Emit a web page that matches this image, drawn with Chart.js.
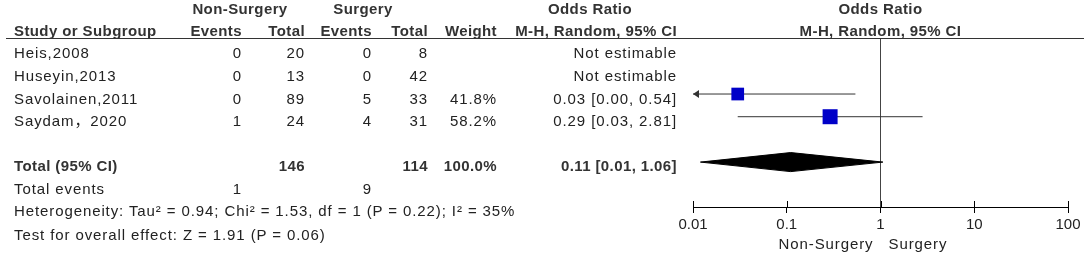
<!DOCTYPE html>
<html lang="en">
<head>
<meta charset="UTF-8" />
<title>Odds Ratio forest plot</title>
<script src="https://cdn.jsdelivr.net/npm/chart.js"></script>
<style>
  body { margin: 0; background: #fff; }
  #wrap {
    position: relative;
    width: 1084px;
    height: 254px;
    overflow: hidden;
    font-family: 'Liberation Sans', 'Noto Sans CJK SC', Arial, sans-serif;
    font-size: 15px;
    color: #222;
  }
  #plot { position: absolute; left: 0; top: 0; }
  .t { position: absolute; white-space: nowrap; line-height: 18px; letter-spacing: 0.9px; }
  .b { font-weight: bold; letter-spacing: 0.4px; color: #333; }
  .rule { position: absolute; left: 6px; top: 38px; width: 1078px; height: 1px; background: #333; }
</style>
</head>
<body>

<div id="wrap">
  <canvas id="plot" width="1084" height="254"></canvas>
  <div class="rule"></div>
  <div id="cells"></div>
</div>

<script>
  // Study data
  const studies  = ['Heis,2008', 'Huseyin,2013', 'Savolainen,2011', 'Saydam，2020'];
  const nsEvents = [0, 0, 0, 1];
  const nsTotal  = [20, 13, 89, 24];
  const sEvents  = [0, 0, 5, 4];
  const sTotal   = [8, 42, 33, 31];
  const weights  = [null, null, 41.8, 58.2];
  const orEst    = [null, null, 0.03, 0.29];
  const orLow    = [null, null, 0.002, 0.03];
  const orHigh   = [null, null, 0.54, 2.81];

  // Pooled result
  const totalOR = 0.11;
  const totalLow = 0.012;
  const totalHigh = 1.06;
  const totalWeight = 100.0;

  const xTicks = [0.01, 0.1, 1, 10, 100];

  const heterogeneity = 'Heterogeneity: Tau² = 0.94; Chi² = 1.53, df = 1 (P = 0.22); I² = 35%';
  const overallTest = 'Test for overall effect: Z = 1.91 (P = 0.06)';

  // Layout of the rows on the y scale
  const Y_MIN = -0.47, Y_MAX = 6.98;
  const TOTAL_ROW = 5;
  const DIAMOND_HALF = 0.42;

  const fmt = v => v.toFixed(2);
  const sum = a => a.reduce((s, v) => s + v, 0);

  // Datasets
  const datasets = [];

  // squares (weighted)
  const sqPoints = [], sqRadius = [];
  orEst.forEach((v, i) => {
    if (v === null) return;
    sqPoints.push({ x: v, y: i });
    sqRadius.push(1.39 * Math.sqrt(weights[i]));
  });
  datasets.push({
    data: sqPoints,
    pointStyle: 'rect',
    pointRadius: sqRadius,
    backgroundColor: '#0000c8',
    borderWidth: 0,
    showLine: false,
    order: 0
  });

  // confidence intervals
  orEst.forEach((v, i) => {
    if (v === null) return;
    datasets.push({
      data: [{ x: orLow[i], y: i }, { x: orHigh[i], y: i }],
      borderColor: '#333',
      borderWidth: 1,
      pointRadius: 0,
      showLine: true,
      order: 1
    });
  });

  // pooled diamond
  datasets.push({
    data: [
      { x: totalLow, y: TOTAL_ROW },
      { x: totalOR, y: TOTAL_ROW - DIAMOND_HALF },
      { x: totalHigh, y: TOTAL_ROW },
      { x: totalOR, y: TOTAL_ROW + DIAMOND_HALF },
      { x: totalLow, y: TOTAL_ROW }
    ],
    borderColor: '#000',
    backgroundColor: '#000',
    borderWidth: 1,
    pointRadius: 0,
    showLine: true,
    fill: 'shape',
    tension: 0,
    order: 1
  });

  // line of no effect
  datasets.push({
    data: [{ x: 1, y: Y_MIN }, { x: 1, y: Y_MAX }],
    borderColor: '#444',
    borderWidth: 1,
    pointRadius: 0,
    showLine: true,
    order: 2
  });

  // upper halves of tick marks + arrows for intervals running off the axis
  const extras = {
    id: 'extras',
    afterDatasetsDraw(chart) {
      const { ctx, chartArea } = chart;
      const x = chart.scales.x, y = chart.scales.y;
      ctx.save();
      ctx.strokeStyle = '#000';
      ctx.lineWidth = 1;
      x.ticks.forEach(t => {
        const px = Math.round(x.getPixelForValue(t.value)) + 0.5;
        ctx.beginPath();
        ctx.moveTo(px, chartArea.bottom - 6);
        ctx.lineTo(px, chartArea.bottom);
        ctx.stroke();
      });
      ctx.fillStyle = '#333';
      orLow.forEach((lo, i) => {
        if (lo === null || lo >= x.min) return;
        const px = x.getPixelForValue(x.min);
        const py = y.getPixelForValue(i);
        ctx.beginPath();
        ctx.moveTo(px, py);
        ctx.lineTo(px + 6, py - 4);
        ctx.lineTo(px + 6, py + 4);
        ctx.closePath();
        ctx.fill();
      });
      ctx.restore();
    }
  };

  const chart = new Chart(document.getElementById('plot'), {
    type: 'scatter',
    data: { datasets },
    options: {
      responsive: false,
      animation: false,
      devicePixelRatio: 1,
      layout: { padding: { left: 693, right: 16, top: 38, bottom: 0 } },
      plugins: { legend: { display: false }, tooltip: { enabled: false } },
      scales: {
        x: {
          type: 'logarithmic',
          min: xTicks[0],
          max: xTicks[xTicks.length - 1],
          afterBuildTicks: s => { s.ticks = xTicks.map(v => ({ value: v })); },
          afterFit: s => { s.height = 47; },
          ticks: {
            autoSkip: false,
            maxRotation: 0,
            padding: 3,
            color: '#222',
            font: { family: "'Liberation Sans', Arial, sans-serif", size: 15 },
            callback: v => String(v)
          },
          grid: { drawOnChartArea: false, tickLength: 6, color: '#000' },
          border: { color: '#000', width: 1 }
        },
        y: { type: 'linear', reverse: true, min: Y_MIN, max: Y_MAX, display: false }
      }
    },
    plugins: [extras]
  });

  // Table text
  const cells = document.getElementById('cells');
  function put(text, x, y, align, bold) {
    const d = document.createElement('div');
    d.className = 't' + (bold ? ' b' : '');
    d.textContent = text;
    d.style.top = (y - 9) + 'px';
    if (align === 'left') {
      d.style.left = x + 'px';
    } else if (align === 'right') {
      d.style.left = (x - 300) + 'px';
      d.style.width = '300px';
      d.style.textAlign = 'right';
    } else {
      d.style.left = (x - 150) + 'px';
      d.style.width = '300px';
      d.style.textAlign = 'center';
    }
    cells.appendChild(d);
  }

  const col = { name: 14, nsEv: 242, nsTot: 305, sEv: 372, sTot: 428, weight: 497, or: 677 };
  const xs = chart.scales.x, ys = chart.scales.y;
  const plotMid = (chart.chartArea.left + chart.chartArea.right) / 2;

  // headers
  put('Non-Surgery', 240, 9, 'center', true);
  put('Surgery', 363, 9, 'center', true);
  put('Odds Ratio', 590, 9, 'center', true);
  put('Odds Ratio', plotMid, 9, 'center', true);
  put('Study or Subgroup', col.name, 31, 'left', true);
  put('Events', col.nsEv, 31, 'right', true);
  put('Total', col.nsTot, 31, 'right', true);
  put('Events', col.sEv, 31, 'right', true);
  put('Total', col.sTot, 31, 'right', true);
  put('Weight', col.weight, 31, 'right', true);
  put('M-H, Random, 95% CI', col.or, 31, 'right', true);
  put('M-H, Random, 95% CI', plotMid, 31, 'center', true);

  // study rows
  studies.forEach((s, i) => {
    const y = ys.getPixelForValue(i) + 4.5;
    put(s, col.name, y, 'left');
    put(String(nsEvents[i]), col.nsEv, y, 'right');
    put(String(nsTotal[i]), col.nsTot, y, 'right');
    put(String(sEvents[i]), col.sEv, y, 'right');
    put(String(sTotal[i]), col.sTot, y, 'right');
    if (weights[i] !== null) put(weights[i].toFixed(1) + '%', col.weight, y, 'right');
    put(orEst[i] === null ? 'Not estimable'
      : fmt(orEst[i]) + ' [' + fmt(orLow[i]) + ', ' + fmt(orHigh[i]) + ']', col.or, y, 'right');
  });

  // total rows
  const yTot = ys.getPixelForValue(TOTAL_ROW) + 3.5;
  put('Total (95% CI)', col.name, yTot, 'left', true);
  put(String(sum(nsTotal)), col.nsTot, yTot, 'right', true);
  put(String(sum(sTotal)), col.sTot, yTot, 'right', true);
  put(totalWeight.toFixed(1) + '%', col.weight, yTot, 'right', true);
  put(fmt(totalOR) + ' [' + fmt(totalLow) + ', ' + fmt(totalHigh) + ']', col.or, yTot, 'right', true);

  put('Total events', col.name, 189, 'left');
  put(String(sum(nsEvents)), col.nsEv, 189, 'right');
  put(String(sum(sEvents)), col.sEv, 189, 'right');
  put(heterogeneity, col.name, 211, 'left');
  put(overallTest, col.name, 235, 'left');

  // axis direction labels
  const x1 = xs.getPixelForValue(1);
  put('Non-Surgery', x1 - 7, 244, 'right');
  put('Surgery', x1 + 8, 244, 'left');
</script>

</body>
</html>
